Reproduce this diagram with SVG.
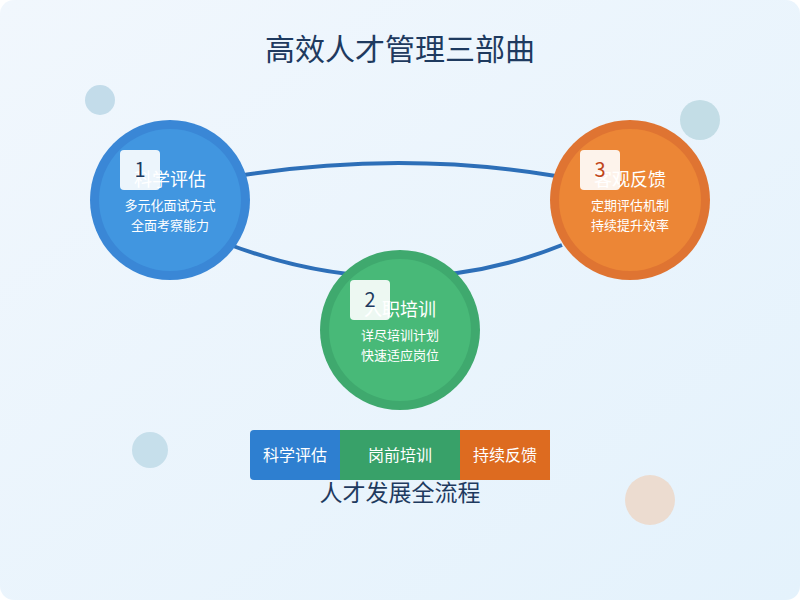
<svg xmlns="http://www.w3.org/2000/svg" width="800" height="600" viewBox="0 0 800 600">
<defs>
<linearGradient id="bg" x1="0" y1="0" x2="1" y2="1"><stop offset="0" stop-color="#f1f7fd"/><stop offset="1" stop-color="#e4f2fc"/></linearGradient>
<style>
text{font-family:"Noto Sans CJK SC","Noto Sans",sans-serif;text-anchor:middle}
.t{fill:#fff;font-size:18px}
.s{fill:#fff;font-size:13px}
.b{fill:#fff;fill-opacity:0.9}
.n{font-size:20px;fill:#1e3a5f}
.c{fill:none;stroke:#2d6fb8;stroke-width:4}
</style>
</defs>
<rect width="800" height="600" rx="14" fill="url(#bg)"/>
<circle cx="100" cy="100" r="15" fill="#c3dcea"/>
<circle cx="700" cy="120" r="20" fill="#c3dde6"/>
<circle cx="150" cy="450" r="18" fill="#c6dfeb"/>
<circle cx="650" cy="500" r="25" fill="#ecdcd0"/>
<text x="400" y="60" style="font-size:30px;fill:#1e3a5f">高效人才管理三部曲</text>
<g id="connectors">
<path class="c" d="M238,176 Q400,150 556,176"/>
<path class="c" d="M225,243 Q400,310 562,245"/>
</g>
<g id="node1">
<circle cx="170" cy="200" r="80" fill="#3a87d6"/>
<circle cx="170" cy="200" r="71" fill="#4196e0"/>
<text class="t" x="170" y="186">科学评估</text>
<text class="s" x="170" y="210">多元化面试方式</text>
<text class="s" x="170" y="230">全面考察能力</text>
<rect class="b" x="120" y="150" width="40" height="40" rx="4"/>
<text class="n" x="140" y="177">1</text>
</g>
<g id="node2">
<circle cx="400" cy="330" r="80" fill="#3fa96e"/>
<circle cx="400" cy="330" r="71" fill="#48b978"/>
<text class="t" x="400" y="316">入职培训</text>
<text class="s" x="400" y="340">详尽培训计划</text>
<text class="s" x="400" y="360">快速适应岗位</text>
<rect class="b" x="350" y="280" width="40" height="40" rx="4"/>
<text class="n" x="370" y="307">2</text>
</g>
<g id="node3">
<circle cx="630" cy="200" r="80" fill="#df7432"/>
<circle cx="630" cy="200" r="71" fill="#ec8636"/>
<text class="t" x="630" y="186">客观反馈</text>
<text class="s" x="630" y="210">定期评估机制</text>
<text class="s" x="630" y="230">持续提升效率</text>
<rect class="b" x="580" y="150" width="40" height="40" rx="4"/>
<text class="n" x="600" y="177" style="fill:#c0461a">3</text>
</g>
<g id="bar">
<rect x="250" y="430" width="100" height="50" rx="4" fill="#2e7fd0"/>
<rect x="340" y="430" width="120" height="50" fill="#38a169"/>
<rect x="460" y="430" width="90" height="50" fill="#dd6b20"/>
<text x="295" y="461" style="fill:#fff;font-size:16px">科学评估</text>
<text x="400" y="461" style="fill:#fff;font-size:16px">岗前培训</text>
<text x="505" y="461" style="fill:#fff;font-size:16px">持续反馈</text>
<text x="400" y="501" style="fill:#1e3a5f;font-size:23px">人才发展全流程</text>
</g>
</svg>
